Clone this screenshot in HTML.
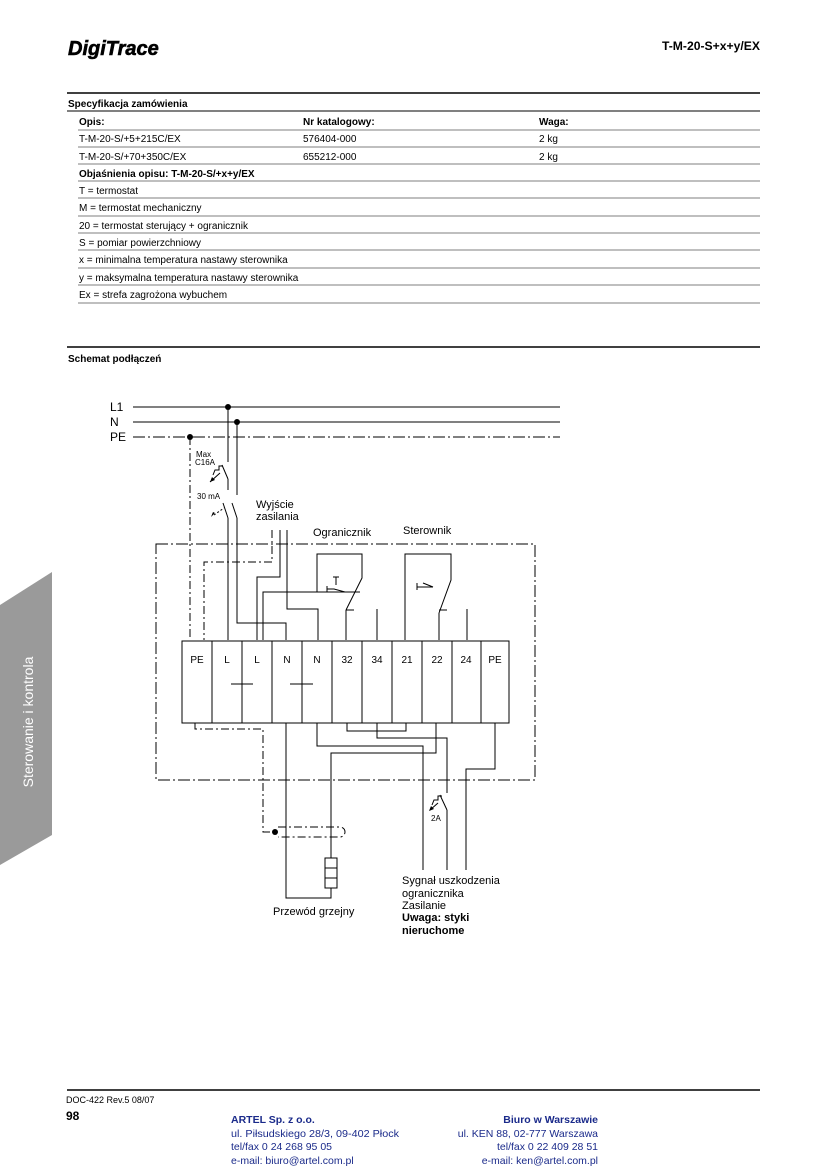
<!DOCTYPE html>
<html><head><meta charset="utf-8"><style>
html,body{margin:0;padding:0;background:#fff}
svg{display:block}
text{font-family:"Liberation Sans",sans-serif}
</style></head><body>
<svg width="827" height="1169" viewBox="0 0 827 1169" xmlns="http://www.w3.org/2000/svg">
<!-- header -->
<text x="68" y="55" font-size="20" font-weight="900" font-style="italic" stroke="#000" stroke-width="0.6">DigiTrace</text>
<text x="760" y="50" font-size="12" font-weight="bold" text-anchor="end" textLength="98" lengthAdjust="spacingAndGlyphs">T-M-20-S+x+y/EX</text>
<line x1="67" y1="93" x2="760" y2="93" stroke="#000" stroke-width="1.5"/>
<g font-size="10">
<text x="68" y="107" font-weight="bold">Specyfikacja zamówienia</text>
<line x1="67" y1="111" x2="760" y2="111" stroke="#000" stroke-width="1"/>
<text x="79" y="125" font-weight="bold">Opis:</text><text x="303" y="125" font-weight="bold">Nr katalogowy:</text><text x="539" y="125" font-weight="bold">Waga:</text>
<text x="79" y="142">T-M-20-S/+5+215C/EX</text><text x="303" y="142">576404-000</text><text x="539" y="142">2 kg</text>
<text x="79" y="160">T-M-20-S/+70+350C/EX</text><text x="303" y="160">655212-000</text><text x="539" y="160">2 kg</text>
<text x="79" y="177" font-weight="bold">Objaśnienia opisu: T-M-20-S/+x+y/EX</text>
<text x="79" y="194">T = termostat</text>
<text x="79" y="211">M = termostat mechaniczny</text>
<text x="79" y="229">20 = termostat sterujący + ogranicznik</text>
<text x="79" y="246">S = pomiar powierzchniowy</text>
<text x="79" y="263">x = minimalna temperatura nastawy sterownika</text>
<text x="79" y="281">y = maksymalna temperatura nastawy sterownika</text>
<text x="79" y="298">Ex = strefa zagrożona wybuchem</text>
</g>
<g stroke="#000" stroke-width="0.6">
<line x1="78" y1="130" x2="760" y2="130"/><line x1="78" y1="147" x2="760" y2="147"/>
<line x1="78" y1="164" x2="760" y2="164"/><line x1="78" y1="181" x2="760" y2="181"/>
<line x1="78" y1="198" x2="760" y2="198"/><line x1="78" y1="216" x2="760" y2="216"/>
<line x1="78" y1="233" x2="760" y2="233"/><line x1="78" y1="250" x2="760" y2="250"/>
<line x1="78" y1="268" x2="760" y2="268"/><line x1="78" y1="285" x2="760" y2="285"/>
<line x1="78" y1="303" x2="760" y2="303"/>
</g>
<line x1="67" y1="347" x2="760" y2="347" stroke="#000" stroke-width="1.5"/>
<text x="68" y="362" font-size="10" font-weight="bold">Schemat podłączeń</text>

<!-- sidebar -->
<polygon points="0,605 52,572 52,835 0,865" fill="#9a9a9a"/>
<text x="0" y="0" font-size="14" fill="#fff" transform="translate(33,722) rotate(-90)" text-anchor="middle">Sterowanie i kontrola</text>

<!-- diagram -->
<g font-size="12"><text x="110" y="411">L1</text><text x="110" y="426">N</text><text x="110" y="441">PE</text></g>
<g stroke="#000" stroke-width="1" fill="none">
<line x1="133" y1="407" x2="560" y2="407"/>
<line x1="133" y1="422" x2="560" y2="422"/>
<line x1="133" y1="437" x2="560" y2="437" stroke-dasharray="12,3,2,3"/>
<line x1="190" y1="437" x2="190" y2="640" stroke-dasharray="8,3,2,3"/>
<line x1="228" y1="407" x2="228" y2="462"/>
<line x1="222" y1="465" x2="228" y2="479"/>
<line x1="228" y1="479" x2="228" y2="490"/>
<path d="M213,475 l2,-5 l4,0 l0,-4 l4,0" />
<line x1="220" y1="473" x2="210" y2="482"/>
<line x1="223" y1="503" x2="228" y2="518"/>
<line x1="228" y1="518" x2="228" y2="640"/>
<line x1="214" y1="515" x2="224" y2="508" stroke-dasharray="2,2"/>
<line x1="237" y1="422" x2="237" y2="495"/>
<line x1="232" y1="503" x2="237" y2="518"/>
<path d="M237,518 V623 H286 V640"/>
<rect x="156" y="544" width="379" height="236" stroke-dasharray="12,3,2,3"/>
<path d="M272,530 V562 H204 V640" stroke-dasharray="8,3,2,3"/>
<path d="M280,530 V577 H257 V640"/>
<path d="M287,530 V609 H318 V640"/>
<path d="M263,640 V592 H360"/>
<path d="M317,592 V554 H362 V578 L346,610 M346,610 H354 M346,610 V640"/>
<path d="M327,592 V586 M327,589 H334 L345,592"/>
<path d="M333,577 h6 M336,577 v8"/>
<line x1="377" y1="609" x2="377" y2="640"/>
<path d="M405,640 V554 H451 V580 L439,613 M439,610 H447 M439,613 V640"/>
<path d="M417,590 V583 M417,587 H423 L433,587"/>
<path d="M423,583 l10,4"/>
<line x1="467" y1="609" x2="467" y2="640"/>
<rect x="182" y="641" width="327" height="82"/>
<line x1="212" y1="641" x2="212" y2="723"/><line x1="242" y1="641" x2="242" y2="723"/>
<line x1="272" y1="641" x2="272" y2="723"/><line x1="302" y1="641" x2="302" y2="723"/>
<line x1="332" y1="641" x2="332" y2="723"/><line x1="362" y1="641" x2="362" y2="723"/>
<line x1="392" y1="641" x2="392" y2="723"/><line x1="422" y1="641" x2="422" y2="723"/>
<line x1="452" y1="641" x2="452" y2="723"/><line x1="481" y1="641" x2="481" y2="723"/>
<line x1="231" y1="684" x2="253" y2="684"/><line x1="290" y1="684" x2="313" y2="684"/>
<path d="M195,723 V729 H263 V832 H272" stroke-dasharray="8,3,2,3"/>
<path d="M278,827 H340 A5,5 0 0 1 340,837 H278" stroke-dasharray="8,3,2,3"/>
<path d="M286,723 V898 H331 V888"/>
<rect x="325" y="858" width="12" height="30"/>
<line x1="325" y1="868" x2="337" y2="868"/><line x1="325" y1="878" x2="337" y2="878"/>
<path d="M331,858 V753 H436 V723"/>
<path d="M317,723 V746 H423 V870"/>
<path d="M347,723 V731 H406 V723"/>
<path d="M377,723 V738 H447 V793"/>
<line x1="440" y1="795" x2="447" y2="810"/>
<line x1="447" y1="810" x2="447" y2="870"/>
<path d="M432,805 l2,-5 l4,0 l0,-4 l4,0"/>
<line x1="438" y1="803" x2="430" y2="810"/>
<path d="M495,723 V769 H466 V870"/>
</g>
<g fill="#000">
<circle cx="228" cy="407" r="3"/><circle cx="237" cy="422" r="3"/><circle cx="190" cy="437" r="3"/>
<circle cx="275" cy="832" r="3"/>
<polygon points="210,482 215,480 212,477"/>
<polygon points="429,811 434,809 431,806"/>
<polygon points="211,517 215,513 213,512"/>
</g>
<g font-size="8"><text x="196" y="457">Max</text><text x="195" y="465">C16A</text><text x="197" y="499">30 mA</text><text x="431" y="821">2A</text></g>
<g font-size="11">
<text x="256" y="508">Wyjście</text><text x="256" y="520">zasilania</text>
<text x="313" y="536">Ogranicznik</text><text x="403" y="534">Sterownik</text>
<text x="273" y="915">Przewód grzejny</text>
<text x="402" y="884">Sygnał uszkodzenia</text>
<text x="402" y="897">ogranicznika</text>
<text x="402" y="909">Zasilanie</text>
<text x="402" y="921" font-weight="bold">Uwaga: styki</text>
<text x="402" y="934" font-weight="bold">nieruchome</text>
</g>
<g font-size="10" text-anchor="middle">
<text x="197" y="663">PE</text><text x="227" y="663">L</text><text x="257" y="663">L</text>
<text x="287" y="663">N</text><text x="317" y="663">N</text><text x="347" y="663">32</text>
<text x="377" y="663">34</text><text x="407" y="663">21</text><text x="437" y="663">22</text>
<text x="466" y="663">24</text><text x="495" y="663">PE</text>
</g>

<!-- footer -->
<line x1="67" y1="1090" x2="760" y2="1090" stroke="#000" stroke-width="1.5"/>
<text x="66" y="1103" font-size="9">DOC-422  Rev.5  08/07</text>
<text x="66" y="1120" font-size="12" font-weight="bold">98</text>
<g font-size="10.5" fill="#1a2a8a">
<text x="231" y="1123" font-weight="bold">ARTEL Sp. z o.o.</text>
<text x="231" y="1137" textLength="168" lengthAdjust="spacingAndGlyphs">ul. Piłsudskiego 28/3, 09-402 Płock</text>
<text x="231" y="1150">tel/fax 0 24 268 95 05</text>
<text x="231" y="1164">e-mail: biuro@artel.com.pl</text>
<g text-anchor="end">
<text x="598" y="1123" font-weight="bold">Biuro w Warszawie</text>
<text x="598" y="1137">ul. KEN 88, 02-777 Warszawa</text>
<text x="598" y="1150">tel/fax 0 22 409 28 51</text>
<text x="598" y="1164">e-mail: ken@artel.com.pl</text>
</g></g>
</svg>
</body></html>
